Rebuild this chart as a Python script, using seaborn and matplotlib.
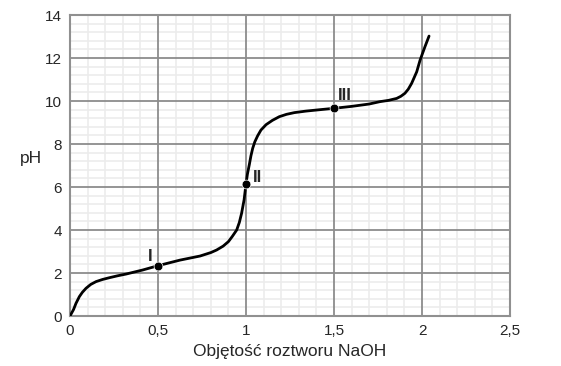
import matplotlib.pyplot as plt
import pandas as pd
import seaborn as sns
from matplotlib.ticker import MultipleLocator

# Titration curve
volume = [0.0, 0.02, 0.034, 0.053, 0.07, 0.091, 0.118, 0.148, 0.185, 0.223, 0.27, 0.318,
          0.413, 0.5, 0.625, 0.739, 0.8, 0.833, 0.87, 0.9, 0.922, 0.947, 0.962, 0.975, 0.989,
          1.0, 1.008, 1.019, 1.028, 1.038, 1.05, 1.066, 1.085, 1.114, 1.15, 1.189, 1.23,
          1.275, 1.34, 1.4, 1.5, 1.6, 1.7, 1.761, 1.81, 1.856, 1.88, 1.903, 1.922, 1.941,
          1.955, 1.97, 1.989, 2.017, 2.04]
ph = [0.0, 0.3, 0.59, 0.9, 1.1, 1.29, 1.47, 1.6, 1.7, 1.78, 1.87, 1.95,
      2.14, 2.34, 2.6, 2.79, 2.95, 3.07, 3.25, 3.46, 3.7, 4.0, 4.35, 4.78, 5.4,
      6.14, 6.6, 7.05, 7.45, 7.8, 8.1, 8.38, 8.65, 8.9, 9.1, 9.27, 9.38,
      9.46, 9.53, 9.58, 9.66, 9.75, 9.86, 9.97, 10.03, 10.12, 10.22, 10.36, 10.55, 10.82,
      11.08, 11.36, 11.9, 12.53, 13.02]

point_labels = ['I', 'II', 'III']
point_volume = [0.5, 1.0, 1.5]
point_ph = [2.34, 6.14, 9.66]

x_ticks = [0, 0.5, 1, 1.5, 2, 2.5]
x_tick_labels = ['0', '0,5', '1', '1,5', '2', '2,5']
y_ticks = [0, 2, 4, 6, 8, 10, 12, 14]

df = pd.DataFrame({'volume': volume, 'ph': ph})
df_pts = pd.DataFrame({'volume': point_volume, 'ph': point_ph, 'label': point_labels})

sns.set_style('white')
plt.rcParams['font.family'] = ['Liberation Sans', 'DejaVu Sans']

fig = plt.figure(figsize=(5.61, 3.66), dpi=100)
ax = fig.add_axes([0.1248, 0.1366, 0.7843, 0.8224])

sns.lineplot(data=df, x='volume', y='ph', color='black', linewidth=2, ax=ax, sort=False, zorder=3)
sns.scatterplot(data=df_pts, x='volume', y='ph', color='black', s=40, zorder=5, ax=ax)

# label offsets
offsets = {'I': (-0.03, 0.45, 'right'), 'II': (0.04, 0.3, 'left'), 'III': (0.02, 0.6, 'left')}
for _, r in df_pts.iterrows():
    dx, dy, ha = offsets[r['label']]
    ax.text(r['volume'] + dx, r['ph'] + dy, r['label'], fontsize=12,
            fontweight='bold', ha=ha, va='center')

ax.set_xlim(0, 2.5)
ax.set_ylim(0, 14)
ax.set_xticks(x_ticks)
ax.set_xticklabels(x_tick_labels)
ax.set_yticks(y_ticks)
ax.xaxis.set_minor_locator(MultipleLocator(0.1))
ax.yaxis.set_minor_locator(MultipleLocator(0.4))
ax.grid(which='minor', color='#ececec', linewidth=1.2, zorder=0.5)
ax.set_axisbelow(True)

# major grid on top of the minor one
for xv in x_ticks:
    ax.axvline(xv, color='#8c8c8c', linewidth=1.3, zorder=1)
for yv in y_ticks:
    ax.axhline(yv, color='#8c8c8c', linewidth=1.3, zorder=1)

for s in ax.spines.values():
    s.set_color('#909090')
    s.set_linewidth(1.5)
ax.tick_params(which='both', length=0, labelsize=11, pad=6)

ax.set_xlabel('Objętość roztworu NaOH', fontsize=12.5, labelpad=4)
ax.set_ylabel('pH', fontsize=12.5, rotation=0, labelpad=10)

fig.savefig('out.png', dpi=100)
